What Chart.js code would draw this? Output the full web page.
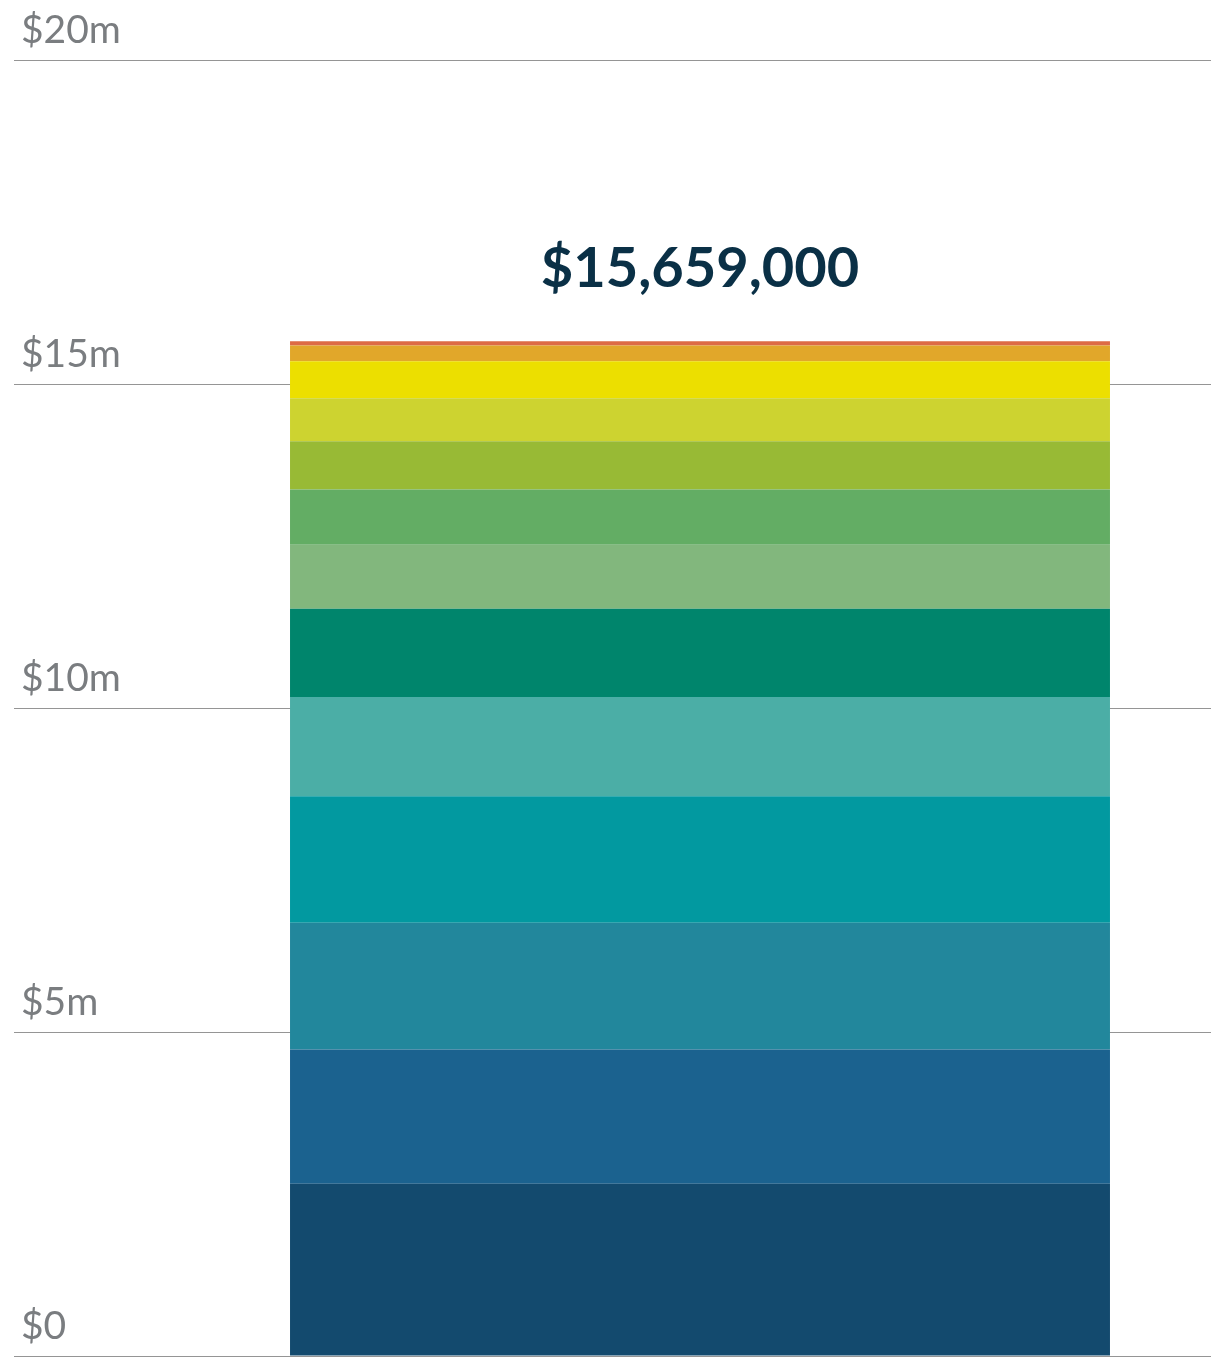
<!DOCTYPE html>
<html>
<head>
<meta charset="utf-8">
<script src="https://cdn.jsdelivr.net/npm/chart.js@4/dist/chart.umd.min.js"></script>
<style>
  html, body { margin: 0; padding: 0; background: #ffffff; }
  #wrap { width: 1211px; height: 1357px; position: relative; }
</style>
</head>
<body>
<div id="wrap"><canvas id="c" width="1211" height="1357"></canvas></div>
<script>
// ---- data (values in $ millions, stacked from bottom to top) ----
const categories = ['Total'];
const seriesNames = ['Segment 1','Segment 2','Segment 3','Segment 4','Segment 5','Segment 6','Segment 7','Segment 8','Segment 9','Segment 10','Segment 11','Segment 12','Segment 13'];
const seriesValues = [2.66, 2.07, 1.955, 1.955, 1.53, 1.36, 0.99, 0.85, 0.745, 0.665, 0.57, 0.245, 0.064];
const seriesColors = ['#134a6e','#1b628f','#22879c','#0299a0','#4baea6','#00856c','#82b77d','#63ad64','#98ba35','#cdd330','#ecdf00','#e1a72a','#dd6b45'];
const yTicks = [0, 5, 10, 15, 20];
const totalLabel = '$15,659,000';

const datasets = seriesNames.map((name, i) => ({
  label: name,
  data: [seriesValues[i]],
  backgroundColor: seriesColors[i],
  borderWidth: 0,
  categoryPercentage: 1,
  barPercentage: 0.8023
}));

const totalPlugin = {
  id: 'totalLabel',
  afterDatasetsDraw(chart) {
    const meta = chart.getDatasetMeta(chart.data.datasets.length - 1);
    const el = meta.data[0];
    const ctx = chart.ctx;
    ctx.save();
    ctx.font = 'bold 56px Lato';
    ctx.fillStyle = '#0a3046';
    ctx.textAlign = 'center';
    ctx.textBaseline = 'alphabetic';
    ctx.fillText(totalLabel, el.x, el.y - 54);
    ctx.restore();
  }
};

new Chart(document.getElementById('c'), {
  type: 'bar',
  data: { labels: categories, datasets },
  plugins: [totalPlugin],
  options: {
    responsive: false,
    animation: false,
    devicePixelRatio: 1,
    layout: { padding: { top: 60, bottom: 1, left: 21, right: 0 } },
    plugins: { legend: { display: false }, tooltip: { enabled: false } },
    scales: {
      x: { stacked: true, display: false },
      y: {
        stacked: true,
        min: yTicks[0],
        max: yTicks[yTicks.length - 1],
        afterBuildTicks(scale) { scale.ticks = yTicks.map(v => ({ value: v })); },
        afterFit(scale) { scale.width = 168; scale.paddingTop = 0; scale.paddingBottom = 0; },
        border: { display: false },
        grid: { color: '#959595', lineWidth: 1, drawTicks: true, tickLength: 175 },
        ticks: {
          crossAlign: 'far',
          labelOffset: -30,
          color: '#7a7d80',
          font: { family: 'Lato', size: 39, weight: '400' },
          autoSkip: false,
          callback: v => v === 0 ? '$0' : '$' + v + 'm'
        }
      }
    }
  }
});
</script>
</body>
</html>
